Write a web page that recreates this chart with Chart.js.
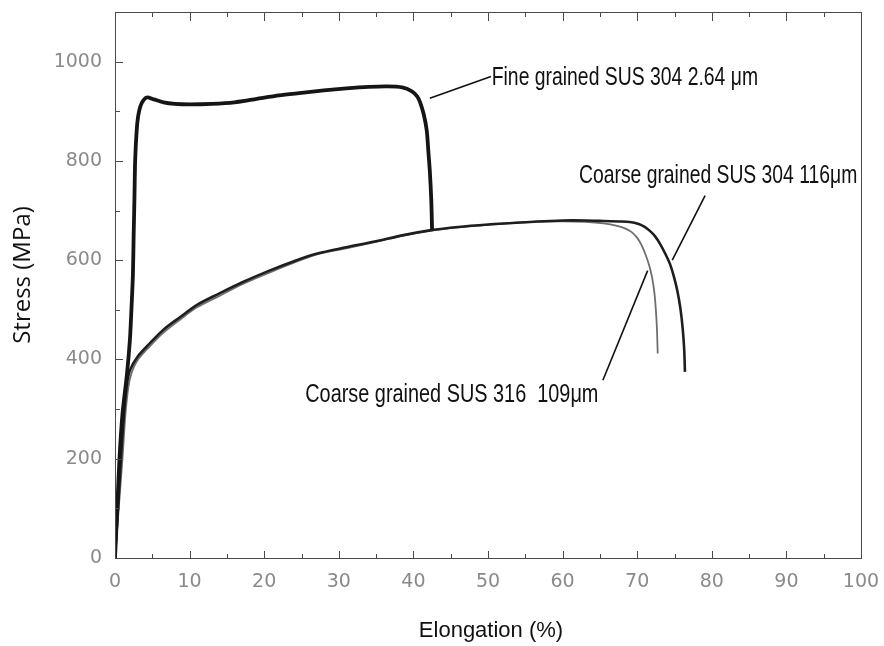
<!DOCTYPE html>
<html>
<head>
<meta charset="utf-8">
<script src="https://cdn.jsdelivr.net/npm/chart.js@4/dist/chart.umd.min.js"></script>
<style>
  html, body { margin: 0; padding: 0; background: #fff; }
  #wrap { width: 884px; height: 646px; position: relative; }
</style>
</head>
<body>
<div id="wrap"><canvas id="c" width="884" height="646"></canvas></div>
<script>
// ---- Data ----
const xTickLabels = [0, 10, 20, 30, 40, 50, 60, 70, 80, 90, 100];
const yTickLabels = [0, 200, 400, 600, 800, 1000];

const fineElong  = [0, 0.3, 0.6, 1.0, 1.6, 2.0, 2.2, 2.4, 2.5, 2.6, 2.7, 2.9, 3.1, 3.4, 3.8, 4.3, 5.2, 6.5, 8, 10, 13, 16, 19, 22, 25, 28, 31, 34, 36.5, 38.5, 39.8, 40.5, 40.9, 41.4, 41.8, 42.0, 42.2, 42.4, 42.5];
const fineStress = [0, 100, 200, 290, 370, 440, 500, 570, 650, 720, 800, 860, 890, 910, 922, 928, 924, 918, 915, 914, 915, 918, 925, 932, 937, 942, 946, 949, 950, 948, 940, 930, 918, 893, 860, 820, 780, 720, 662];

const c304Elong  = [0, 0.4, 0.8, 1.2, 1.6, 2.0, 3, 4.7, 6.5, 8.7, 11, 14, 17, 20.7, 24, 27, 31, 35, 38.5, 42.2, 46, 50, 53.3, 56.5, 60, 63, 65.5, 67.5, 69, 70.2, 71.0, 71.7, 72.4, 73.1, 73.8, 74.4, 74.9, 75.4, 75.8, 76.1, 76.3, 76.4];
const c304Stress = [0, 100, 200, 290, 350, 378, 405, 433, 460, 485, 510, 533, 555, 579, 598, 613, 626, 638, 650, 660, 667, 672, 675, 678, 680, 680, 679, 678, 677, 673, 667, 659, 648, 632, 612, 592, 568, 537, 502, 462, 420, 375];

const c316Elong  = [0, 0.5, 1.0, 1.4, 1.8, 2.2, 3, 4.7, 6.5, 8.7, 11, 14, 17, 20.7, 24, 27, 31, 35, 38.5, 42.2, 46, 50, 53.3, 56.5, 60, 63, 65.5, 67.3, 68.5, 69.3, 70.0, 70.6, 71.1, 71.6, 72.0, 72.3, 72.5, 72.65, 72.75];
const c316Stress = [0, 100, 200, 290, 345, 372, 398, 427, 454, 480, 505, 528, 551, 575, 595, 611, 624, 637, 649, 659, 666, 671, 675, 677, 678, 677, 674, 669, 663, 656, 645, 630, 612, 590, 565, 535, 500, 460, 412];

// annotation labels (anchor in data units: elongation %, stress MPa)
const noteTexts = ['Fine grained SUS 304 2.64 \u03bcm', 'Coarse grained SUS 304 116\u03bcm', 'Coarse grained SUS 316  109\u03bcm'];
const noteX     = [50.5, 62.2, 25.5];
const noteY     = [952, 756, 314];
const noteWidth = [35.7, 37.3, 39.3];   // text span in elongation units
const leadFrom  = [[42.2, 926], [79.1, 730], [65.4, 358]];
const leadTo    = [[50.4, 970], [74.7, 600], [71.4, 579]];

const toPts = (xs, ys) => xs.map((x, i) => ({ x: x, y: ys[i] }));

const framePlugin = {
  id: 'frame',
  afterDatasetsDraw(chart) {
    const ctx = chart.ctx, a = chart.chartArea;
    const xs = chart.scales.x, ys = chart.scales.y;
    ctx.save();
    ctx.strokeStyle = '#4a4a4a';
    ctx.lineWidth = 1;
    ctx.strokeRect(Math.round(a.left) + 0.5, Math.round(a.top) + 0.5, Math.round(a.right - a.left), Math.round(a.bottom - a.top));
    ctx.beginPath();
    for (let v = 5; v < 100; v += 5) {
      const px = Math.round(xs.getPixelForValue(v)) + 0.5;
      const major = v % 10 === 0;
      ctx.moveTo(px, a.bottom); ctx.lineTo(px, a.bottom - (major ? 7 : 4));
      ctx.moveTo(px, a.top); ctx.lineTo(px, a.top + (major ? 9 : 5));
    }
    for (let v = 100; v < 1100; v += 100) {
      const py = Math.round(ys.getPixelForValue(v)) + 0.5;
      const major = v % 200 === 0;
      ctx.moveTo(a.left, py); ctx.lineTo(a.left + (major ? 8 : 5), py);
    }
    ctx.stroke();
    ctx.restore();
  },
  afterDraw(chart) {
    const ctx = chart.ctx, a = chart.chartArea;
    const xs = chart.scales.x, ys = chart.scales.y;
    ctx.save();
    ctx.fillStyle = '#111';
    ctx.font = '22px "Liberation Sans", Arial, sans-serif';
    ctx.textAlign = 'center';
    ctx.textBaseline = 'alphabetic';
    ctx.fillText('Elongation (%)', (a.left + a.right) / 2 + 3, 637);
    ctx.save();
    ctx.translate(30, 275);
    ctx.rotate(-Math.PI / 2);
    ctx.font = '24px "Open Sans", sans-serif';
    ctx.fillText('Stress (MPa)', 0, 0);
    ctx.restore();

    ctx.strokeStyle = '#111';
    ctx.lineWidth = 1.6;
    for (let i = 0; i < noteTexts.length; i++) {
      ctx.beginPath();
      ctx.moveTo(xs.getPixelForValue(leadFrom[i][0]), ys.getPixelForValue(leadFrom[i][1]));
      ctx.lineTo(xs.getPixelForValue(leadTo[i][0]), ys.getPixelForValue(leadTo[i][1]));
      ctx.stroke();
      ctx.font = '25px "Liberation Sans", Arial, sans-serif';
      ctx.textAlign = 'left';
      const w = ctx.measureText(noteTexts[i]).width;
      const target = xs.getPixelForValue(noteX[i] + noteWidth[i]) - xs.getPixelForValue(noteX[i]);
      const sx = target / w;
      ctx.save();
      ctx.translate(xs.getPixelForValue(noteX[i]), ys.getPixelForValue(noteY[i]));
      ctx.scale(sx, 1);
      ctx.fillText(noteTexts[i], 0, 0);
      ctx.restore();
    }
    ctx.restore();
  }
};

const tickFont = { family: '"DejaVu Sans", sans-serif', size: 19 };
const zeroPad = s => { s.paddingTop = 0; s.paddingBottom = 0; s.paddingLeft = 0; s.paddingRight = 0; };

new Chart(document.getElementById('c'), {
  type: 'scatter',
  data: {
    datasets: [
      { label: 'Coarse grained SUS 316 109μm', data: toPts(c316Elong, c316Stress), showLine: true,
        borderColor: '#6e6e6e', borderWidth: 1.8, pointRadius: 0, tension: 0.3, order: 3 },
      { label: 'Coarse grained SUS 304 116μm', data: toPts(c304Elong, c304Stress), showLine: true,
        borderColor: '#1e1e1e', borderWidth: 2.6, pointRadius: 0, tension: 0.3, order: 2 },
      { label: 'Fine grained SUS 304 2.64 μm', data: toPts(fineElong, fineStress), showLine: true,
        borderColor: '#151515', borderWidth: 3.8, pointRadius: 0, tension: 0.25, order: 1 }
    ]
  },
  options: {
    responsive: false,
    animation: false,
    events: [],
    layout: { padding: { left: 0, top: 12, right: 23, bottom: 0 } },
    plugins: { legend: { display: false }, tooltip: { enabled: false }, title: { display: false } },
    scales: {
      x: {
        type: 'linear', min: 0, max: 100,
        afterBuildTicks: s => { s.ticks = xTickLabels.map(v => ({ value: v })); },
        afterFit: s => { s.height = 88; zeroPad(s); },
        grid: { display: false, drawTicks: false },
        border: { display: false },
        ticks: { color: '#8a8a8a', font: tickFont, padding: 13, maxRotation: 0, autoSkip: false, callback: v => String(v) }
      },
      y: {
        type: 'linear', min: 0, max: 1100,
        afterBuildTicks: s => { s.ticks = yTickLabels.map(v => ({ value: v })); },
        afterFit: s => { s.width = 115; zeroPad(s); },
        grid: { display: false, drawTicks: false },
        border: { display: false },
        ticks: { color: '#8a8a8a', font: tickFont, padding: 13, autoSkip: false, callback: v => String(v) }
      }
    }
  },
  plugins: [framePlugin]
});
</script>
</body>
</html>
